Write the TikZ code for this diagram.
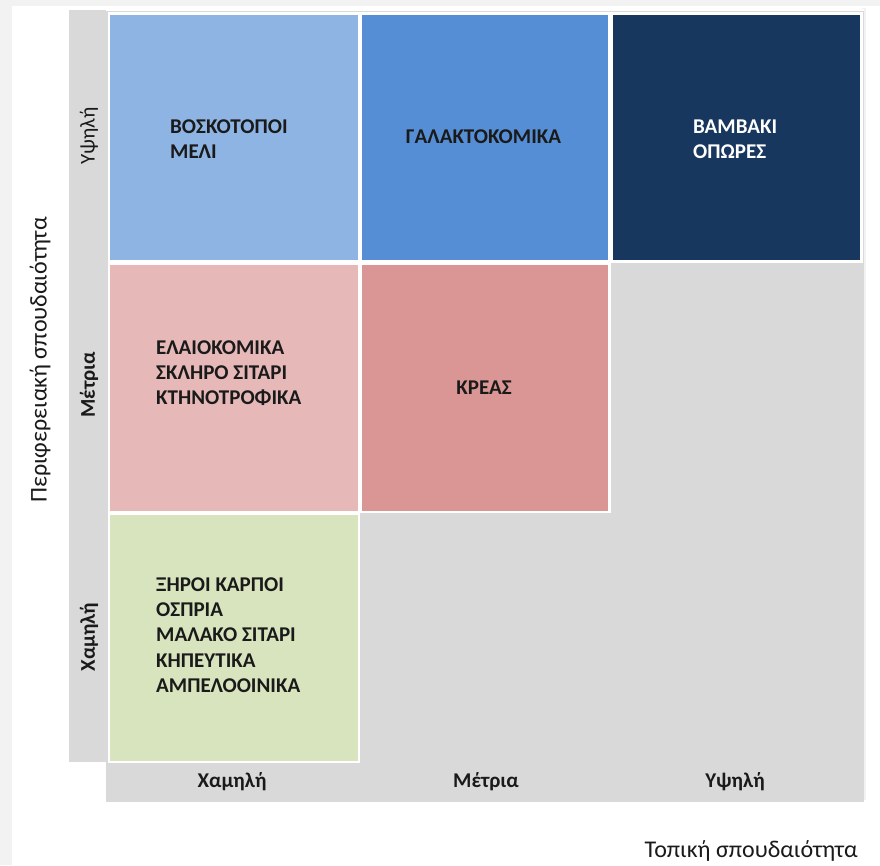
\documentclass[tikz,border=0pt]{standalone}
\usepackage{fontspec}
\setmainfont{Carlito}
\definecolor{bgline}{HTML}{F2F2F2}
\definecolor{gridgrey}{HTML}{D9D9D9}
\definecolor{blueA}{HTML}{8EB4E3}
\definecolor{blueB}{HTML}{558ED5}
\definecolor{blueC}{HTML}{17375E}
\definecolor{redA}{HTML}{E6B9B8}
\definecolor{redB}{HTML}{D99694}
\definecolor{greenA}{HTML}{D7E4BD}
\definecolor{txt}{HTML}{1A1A1A}
\tikzset{
  cellbox/.style={draw=white, line width=2.5pt},
  celltext/.style={font=\fontsize{21}{25.3}\selectfont\bfseries, text=txt, align=left, anchor=west, inner sep=0pt},
  axislab/.style={font=\fontsize{21}{24}\selectfont\bfseries, text=txt, inner sep=0pt},
  axislabreg/.style={font=\fontsize{21}{24}\selectfont, text=txt, inner sep=0pt},
  axistitle/.style={font=\fontsize{24}{28}\selectfont, text=txt, inner sep=0pt}
}
\begin{document}
\begin{tikzpicture}[x=1pt,y=-1pt]
\useasboundingbox (0,0) rectangle (880,865);
\fill[bgline] (0,0) rectangle (880,865);
\fill[white] (12,6) rectangle (880,865);
\fill[bgline] (862,8) rectangle (866,800);
% grey panels
\fill[gridgrey] (69,10) rectangle (106,762);
\fill[gridgrey] (106,10) rectangle (864,762);
\fill[gridgrey] (106,762) rectangle (864,802);
\draw[white, line width=2pt] (106,10) -- (864,10);
% cells
\node[cellbox, fill=blueA, minimum width=250pt, minimum height=248pt, anchor=north west] (c13) at (107.5,12) {};
\node[cellbox, fill=blueB, minimum width=249pt, minimum height=248pt, anchor=north west] (c23) at (359,12) {};
\node[cellbox, fill=blueC, minimum width=250pt, minimum height=248pt, anchor=north west] (c33) at (610,12) {};
\node[cellbox, fill=redA, minimum width=250pt, minimum height=248pt, anchor=north west] (c12) at (107.5,262.5) {};
\node[cellbox, fill=redB, minimum width=249pt, minimum height=248pt, anchor=north west] (c22) at (359,262.5) {};
\node[cellbox, fill=greenA, minimum width=250pt, minimum height=248pt, anchor=north west] (c11) at (107.5,512.5) {};
% cell texts
\node[celltext] (t13) at (170,139) {ΒΟΣΚΟΤΟΠΟΙ\\ΜΕΛΙ};
\node[celltext, anchor=center] (t23) at (483.5,137) {ΓΑΛΑΚΤΟΚΟΜΙΚΑ};
\node[celltext, text=white] (t33) at (693,139) {ΒΑΜΒΑΚΙ\\ΟΠΩΡΕΣ};
\node[celltext] (t12) at (156,373) {ΕΛΑΙΟΚΟΜΙΚΑ\\ΣΚΛΗΡΟ ΣΙΤΑΡΙ\\ΚΤΗΝΟΤΡΟΦΙΚΑ};
\node[celltext, anchor=center] (t22) at (484,388) {ΚΡΕΑΣ};
\node[celltext] (t11) at (156,635) {ΞΗΡΟΙ ΚΑΡΠΟΙ\\ΟΣΠΡΙΑ\\ΜΑΛΑΚΟ ΣΙΤΑΡΙ\\ΚΗΠΕΥΤΙΚΑ\\ΑΜΠΕΛΟΟΙΝΙΚΑ};
% row labels
\node[axislabreg, rotate=90] (r3) at (89,136) {Υψηλή};
\node[axislab, rotate=90] (r2) at (89,385) {Μέτρια};
\node[axislab, rotate=90] (r1) at (89,637) {Χαμηλή};
% column labels
\node[axislab] (k1) at (232,782) {Χαμηλή};
\node[axislab] (k2) at (486,782) {Μέτρια};
\node[axislab] (k3) at (735,782) {Υψηλή};
% axis titles
\node[axistitle, rotate=90] (ytitle) at (40,360) {Περιφερειακή σπουδαιότητα};
\node[axistitle, anchor=east] (xtitle) at (858,851) {Τοπική σπουδαιότητα};
\end{tikzpicture}
\end{document}
